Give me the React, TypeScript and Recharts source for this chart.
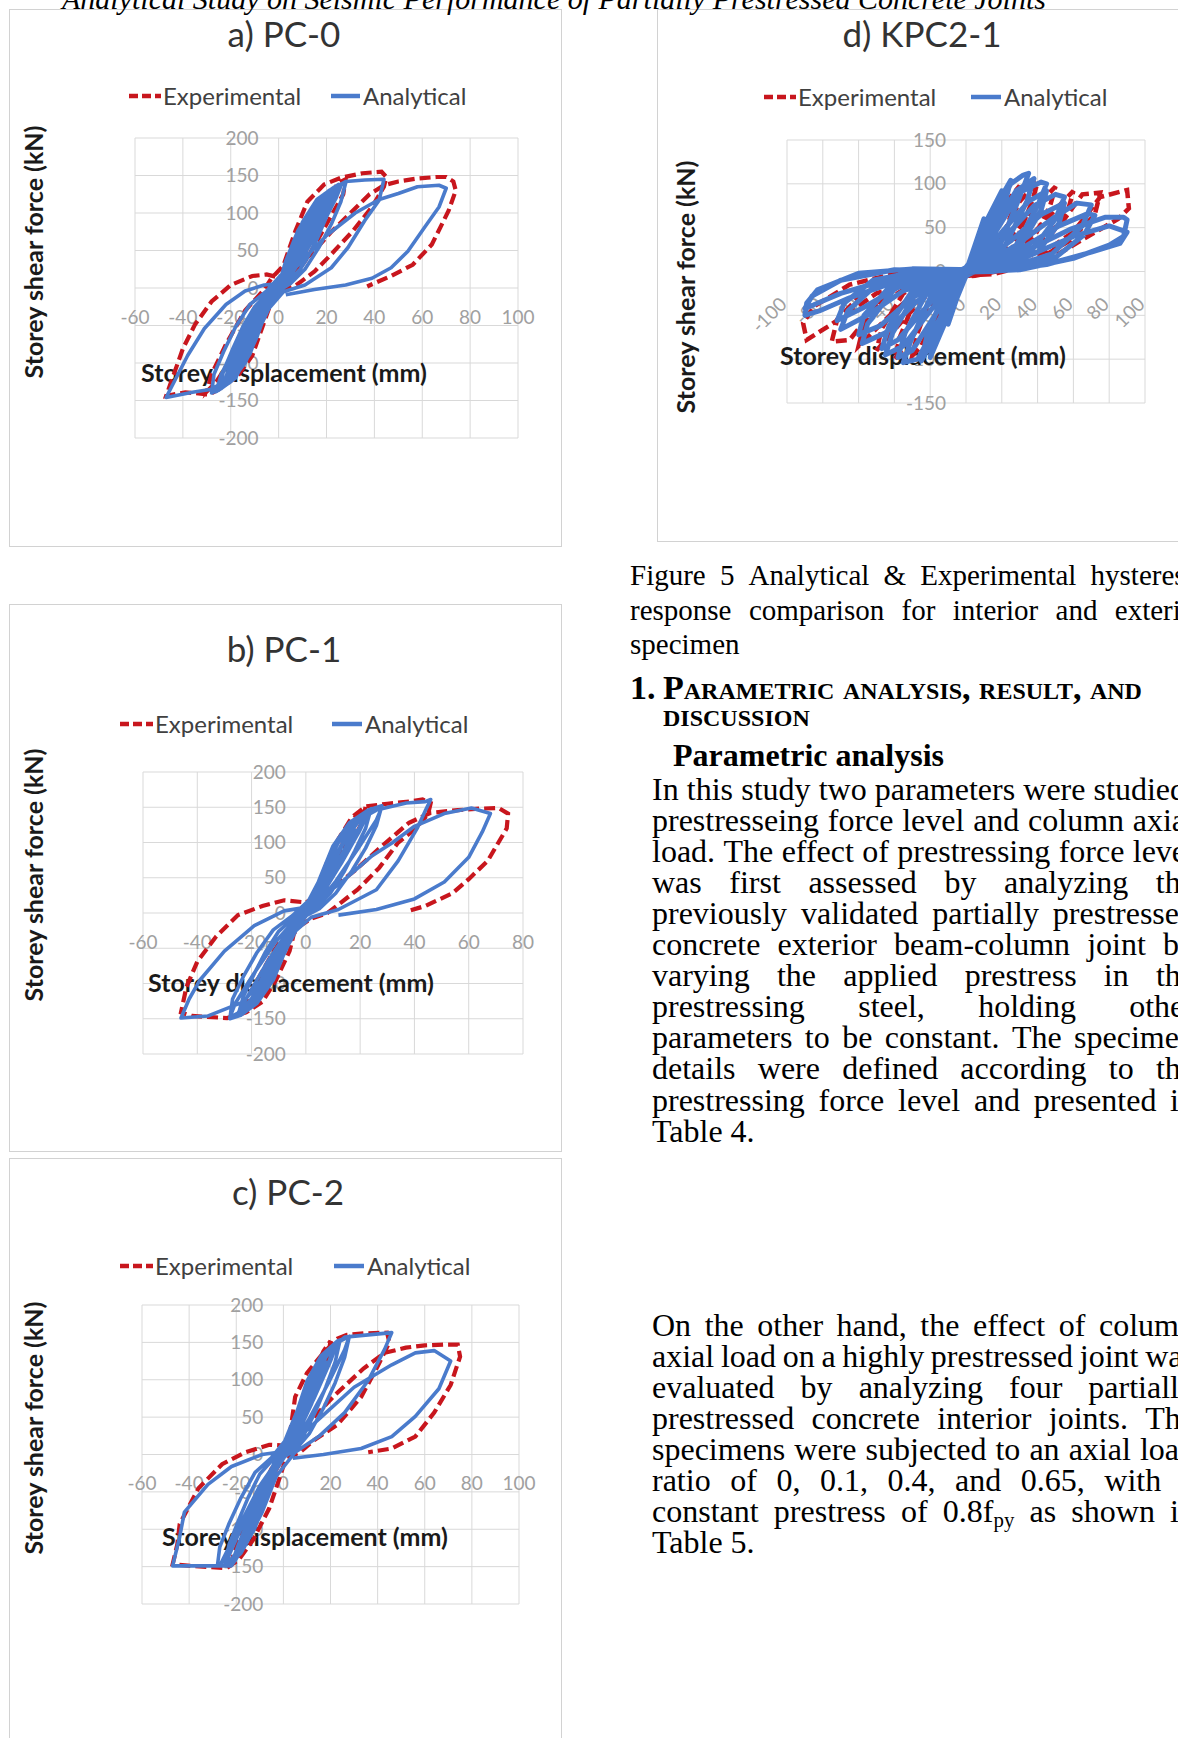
import React from 'react';
import { LineChart, Line, XAxis, YAxis, CartesianGrid } from 'recharts';

type Pair = [number, number];

const RED = '#c8161d';
const BLUE = '#4a7bcc';
const GRID = '#d9d9d9';
const TICK = '#a0a0a0';
const CHART_FONT = 'Lato, "Open Sans", sans-serif';
const PAPER_FONT = '"Liberation Serif", "Times New Roman", serif';

// axis ticks
const pc0XTicks = [-60, -40, -20, 0, 20, 40, 60, 80, 100];
const pc0YTicks = [-200, -150, -100, -50, 0, 50, 100, 150, 200];
const pc1XTicks = [-60, -40, -20, 0, 20, 40, 60, 80];
const pc1YTicks = [-200, -150, -100, -50, 0, 50, 100, 150, 200];
const pc2XTicks = [-60, -40, -20, 0, 20, 40, 60, 80, 100];
const pc2YTicks = [-200, -150, -100, -50, 0, 50, 100, 150, 200];
const kpcXTicks = [-100, -80, -60, -40, -20, 0, 20, 40, 60, 80, 100];
const kpcYTicks = [-150, -100, -50, 0, 50, 100, 150];

// a) PC-0 (displacement mm, shear kN)
const pc0Experimental: Pair[] = [
  [0, 0], [3, 20], [7, 45], [10, 60], [7, 40], [2, 8], [-3, -18], [-7, -45], [-10, -62], [-7, -40], [-2, -8],
  [4, 20], [10, 60], [15, 95], [12, 75], [5, 25], [-1, 0], [-6, -30], [-12, -75], [-16, -100], [-13, -80], [-6, -35], [0, -2],
  [5, 25], [12, 80], [20, 125], [17, 100], [9, 45], [2, 8], [-5, -25], [-13, -80], [-20, -118], [-17, -95], [-9, -45], [-2, -5],
  [5, 20], [12, 70], [19, 115], [25, 140], [28, 145], [27, 125], [20, 85], [12, 40], [5, 10], [-3, -5], [-12, -45], [-20, -95], [-26, -125], [-30, -138], [-28, -115], [-22, -75], [-14, -30], [-6, -2],
  [-3, 13], [2, 30], [7, 76], [12, 115], [19, 138], [26, 147], [35, 153], [43, 155], [45, 148], [44, 135], [39, 108], [31, 76], [22, 45], [15, 22], [7, 3], [1, -3],
  [-4, -27], [-7, -54], [-11, -90], [-17, -117], [-25, -135], [-29, -142], [-39, -139], [-47, -144], [-45, -126], [-40, -81], [-35, -49], [-28, -18], [-20, 4], [-11, 16], [-5, 18], [0, 14],
  [7, 25], [15, 50], [22, 75], [30, 100], [38, 125], [44, 137], [50, 142], [58, 146], [66, 148], [70, 148], [73, 142], [74, 130], [71, 103], [64, 58], [56, 31], [47, 16], [39, 5], [37, 2],
];
const pc0Analytical: Pair[] = [
  [0, 0], [3, 18], [6, 40], [9, 60], [7, 45], [3, 15], [0, 0], [-3, -18], [-6, -40], [-9, -60], [-7, -45], [-3, -15], [0, 0],
  [4, 25], [8, 55], [12, 80], [14, 92], [11, 72], [6, 35], [1, 5], [-4, -22], [-8, -52], [-12, -80], [-14, -92], [-11, -70], [-6, -32], [-1, -3],
  [5, 30], [10, 70], [15, 100], [18, 112], [15, 92], [9, 50], [3, 12], [-4, -22], [-10, -65], [-15, -100], [-18, -112], [-15, -90], [-9, -48], [-3, -10],
  [4, 22], [9, 60], [14, 95], [18, 115], [20, 122], [17, 100], [11, 60], [5, 22], [0, 2], [-5, -25], [-10, -62], [-15, -98], [-19, -118], [-21, -125], [-18, -100], [-12, -62], [-6, -25], [-1, -2],
  [5, 28], [11, 75], [17, 110], [22, 126], [19, 105], [12, 58], [4, 14], [-4, -24], [-11, -75], [-17, -112], [-22, -128], [-19, -105], [-12, -58], [-4, -12],
  [2, 10], [6, 50], [11, 90], [17, 120], [24, 136], [22, 110], [18, 80], [14, 52], [9, 25], [3, 5], [-3, -12], [-8, -50], [-13, -90], [-19, -120], [-25, -136], [-23, -110], [-19, -80], [-15, -52], [-10, -25], [-4, -5],
  [5, 25], [10, 62], [16, 102], [22, 128], [26, 136], [24, 120], [17, 80], [10, 40], [3, 8], [-4, -18], [-10, -55], [-16, -95], [-22, -125], [-26, -135], [-24, -118], [-18, -82], [-11, -42], [-4, -10],
  [1, 6], [5, 45], [10, 88], [16, 118], [23, 134], [28, 140], [26, 115], [22, 85], [17, 55], [11, 25], [5, 6], [-2, -8], [-7, -45], [-12, -88], [-18, -118], [-24, -134], [-28, -140], [-27, -115], [-23, -85], [-18, -52], [-12, -22], [-5, -4],
  [6, 35], [12, 85], [18, 118], [24, 132], [21, 112], [13, 62], [5, 16], [-5, -28], [-12, -82], [-18, -120], [-24, -134], [-21, -110], [-13, -60], [-5, -14],
  [3, 20], [8, 65], [13, 100], [19, 125], [25, 138], [24, 120], [20, 95], [16, 65], [12, 40], [7, 15], [1, 0], [-4, -20], [-9, -65], [-14, -100], [-20, -125], [-26, -138], [-24, -115], [-20, -90], [-16, -62], [-11, -35], [-6, -12],
  [0, 4], [3, 36], [8, 76], [14, 108], [21, 130], [28, 142], [36, 144], [44, 145], [42, 117], [36, 90], [29, 54], [22, 27], [11, 4], [2, -5],
  [-4, -27], [-8, -54], [-14, -90], [-19, -117], [-28, -135], [-36, -139], [-47, -146], [-43, -121], [-38, -90], [-31, -54], [-22, -22], [-14, -4], [-6, 4], [0, 6],
  [8, 30], [20, 70], [32, 100], [42, 118], [50, 126], [58, 135], [67, 137], [70, 133], [67, 108], [61, 81], [54, 49], [47, 27], [39, 13], [28, 4], [15, -2], [3, -9],
];

// b) PC-1
const pc1Experimental: Pair[] = [
  [0, 0], [3, 20], [7, 48], [10, 65], [7, 42], [2, 8], [-3, -20], [-7, -48], [-10, -65], [-7, -42], [-2, -8],
  [4, 22], [10, 68], [15, 100], [12, 78], [5, 25], [-1, 0], [-6, -32], [-12, -78], [-16, -105], [-13, -82], [-6, -35], [0, -2],
  [5, 28], [12, 85], [18, 135], [22, 151], [21, 130], [14, 80], [7, 35], [1, 5], [-5, -28], [-13, -85], [-20, -125], [-23, -138], [-20, -110], [-12, -55], [-4, -10],
  [3, 20], [8, 74], [12, 105], [17, 136], [22, 151], [30, 155], [38, 158], [43, 161], [46, 156], [45, 140], [40, 118], [34, 100], [27, 64], [19, 33], [8, 0], [2, -8],
  [-4, -23], [-6, -54], [-11, -95], [-16, -126], [-22, -141], [-29, -149], [-42, -146], [-46, -141], [-44, -105], [-40, -69], [-33, -33], [-25, -3], [-16, 10], [-8, 18], [0, 15],
  [8, 30], [18, 60], [28, 95], [38, 128], [46, 142], [56, 146], [64, 148], [71, 149], [74.5, 141], [74, 120], [67, 74], [60, 48], [54, 28], [44, 10], [37, 2],
];
const pc1Analytical: Pair[] = [
  [0, 0], [3, 20], [6, 42], [9, 62], [7, 45], [3, 15], [0, 0], [-3, -20], [-6, -42], [-9, -62], [-7, -45], [-3, -15], [0, 0],
  [4, 28], [8, 60], [12, 88], [14, 100], [11, 78], [6, 38], [1, 6], [-4, -25], [-8, -58], [-12, -88], [-15, -105], [-12, -80], [-6, -38], [-1, -4],
  [5, 32], [10, 74], [15, 106], [18, 118], [15, 96], [9, 52], [3, 12], [-4, -24], [-10, -68], [-15, -104], [-18, -118], [-15, -94], [-9, -50], [-3, -10],
  [5, 30], [10, 70], [15, 108], [20, 132], [23, 142], [20, 118], [13, 70], [6, 28], [0, 2], [-5, -28], [-11, -72], [-17, -112], [-22, -135], [-25, -142], [-21, -115], [-14, -68], [-7, -28], [-1, -3],
  [2, 10], [6, 55], [11, 98], [17, 130], [24, 148], [22, 120], [18, 88], [14, 58], [9, 28], [3, 5], [-3, -12], [-8, -55], [-13, -98], [-19, -130], [-25, -145], [-23, -118], [-19, -86], [-15, -56], [-10, -26], [-4, -5],
  [6, 36], [12, 88], [18, 124], [22, 138], [19, 116], [12, 64], [4, 14], [-5, -28], [-12, -84], [-18, -124], [-22, -138], [-19, -114], [-12, -62], [-4, -12],
  [1, 6], [5, 48], [10, 95], [16, 128], [23, 146], [28, 152], [26, 124], [22, 92], [17, 60], [11, 28], [5, 6], [-2, -8], [-7, -48], [-12, -95], [-18, -128], [-24, -145], [-28, -150], [-27, -122], [-23, -90], [-18, -56], [-12, -24], [-5, -4],
  [5, 32], [11, 82], [17, 122], [24, 146], [28, 150], [26, 132], [19, 90], [11, 45], [4, 12], [-4, -18], [-11, -68], [-18, -112], [-24, -140], [-28, -148], [-26, -128], [-19, -85], [-11, -40], [-4, -10],
  [0, 10], [6, 54], [12, 100], [19, 131], [26, 146], [37, 156], [44, 158], [46, 161], [44, 145], [41, 120], [34, 74], [26, 33], [12, 5], [2, -6],
  [-6, -33], [-13, -80], [-23, -126], [-36, -146], [-46, -149], [-43, -122], [-39, -95], [-30, -54], [-19, -18], [-8, 3], [0, 8],
  [12, 40], [24, 80], [32, 100], [40, 123], [51, 141], [61, 149], [68, 141], [65, 115], [60, 79], [51, 44], [40, 20], [26, 5], [12, -3],
];

// c) PC-2
const pc2Experimental: Pair[] = [
  [0, 0], [3, 20], [7, 48], [10, 65], [7, 42], [2, 8], [-3, -20], [-7, -48], [-10, -65], [-7, -42], [-2, -8],
  [4, 25], [10, 70], [15, 105], [12, 80], [5, 25], [-1, 0], [-6, -35], [-12, -80], [-16, -108], [-13, -85], [-6, -38], [0, -2],
  [5, 30], [11, 95], [17, 138], [20, 152], [19, 130], [12, 80], [6, 35], [1, 5], [-5, -32], [-12, -88], [-19, -130], [-22, -142], [-19, -115], [-11, -60], [-4, -12],
  [2, 10], [5, 77], [10, 109], [17, 136], [23, 155], [27, 160], [34, 162], [44, 163], [45, 150], [40, 118], [33, 77], [23, 40], [13, 19], [7, 3], [1, -6],
  [-2, -35], [-6, -72], [-13, -115], [-19, -141], [-24, -152], [-39, -149], [-47, -147], [-45, -120], [-44, -93], [-36, -45], [-26, -13], [-16, 3], [-6, 13], [0, 12],
  [10, 40], [22, 80], [34, 115], [43, 136], [52, 143], [60, 146], [68, 147], [74, 147], [75, 131], [71, 93], [64, 56], [56, 24], [46, 8], [36, 3],
];
const pc2Analytical: Pair[] = [
  [0, 0], [3, 20], [6, 42], [9, 62], [7, 45], [3, 15], [0, 0], [-3, -20], [-6, -42], [-9, -62], [-7, -45], [-3, -15], [0, 0],
  [4, 28], [8, 62], [12, 92], [14, 105], [11, 80], [6, 40], [1, 6], [-4, -26], [-8, -60], [-12, -92], [-15, -108], [-12, -82], [-6, -40], [-1, -4],
  [5, 34], [10, 78], [15, 112], [18, 124], [15, 100], [9, 54], [3, 12], [-4, -26], [-10, -72], [-15, -110], [-18, -124], [-15, -98], [-9, -52], [-3, -10],
  [5, 32], [10, 75], [15, 115], [20, 140], [23, 150], [20, 125], [13, 75], [6, 30], [0, 2], [-5, -30], [-11, -78], [-17, -118], [-22, -140], [-25, -149], [-21, -120], [-14, -72], [-7, -30], [-1, -3],
  [2, 10], [6, 58], [11, 102], [17, 135], [24, 152], [22, 124], [18, 90], [14, 60], [9, 28], [3, 5], [-3, -12], [-8, -58], [-13, -102], [-19, -135], [-25, -149], [-23, -120], [-19, -88], [-15, -58], [-10, -26], [-4, -5],
  [6, 38], [12, 92], [18, 130], [22, 146], [19, 122], [12, 68], [4, 14], [-5, -30], [-12, -90], [-18, -130], [-22, -146], [-19, -120], [-12, -66], [-4, -12],
  [1, 6], [5, 50], [10, 98], [16, 132], [23, 152], [28, 158], [26, 130], [22, 96], [17, 62], [11, 28], [5, 6], [-2, -8], [-7, -50], [-12, -98], [-18, -132], [-24, -149], [-28, -149], [-27, -124], [-23, -92], [-18, -58], [-12, -24], [-5, -4],
  [5, 35], [11, 90], [17, 130], [23, 150], [28, 158], [26, 140], [19, 95], [11, 48], [4, 12], [-4, -20], [-10, -70], [-16, -115], [-22, -145], [-27, -149], [-24, -130], [-17, -85], [-10, -42], [-3, -10],
  [2, 29], [7, 67], [13, 109], [20, 141], [26, 157], [36, 160], [46, 163], [43, 141], [36, 99], [26, 56], [15, 24], [5, 3],
  [-3, -29], [-9, -77], [-16, -120], [-22, -149], [-29, -149], [-47, -149], [-44, -110], [-42, -77], [-32, -40], [-22, -16], [-9, 0], [0, 4],
  [16, 50], [30, 90], [46, 120], [56, 136], [64, 139], [71, 125], [66, 88], [56, 51], [46, 24], [33, 8], [17, 0], [4, -5],
];

// d) KPC2-1
const kpcExperimental: Pair[] = [
  [0, 0], [5, 25], [10, 50], [7, 30], [3, 5], [0, -2], [-5, -25], [-10, -50], [-7, -30], [-3, -5], [0, 0],
  [5, 10], [12, 50], [20, 85], [17, 60], [10, 15], [3, 0], [-5, -10], [-12, -50], [-20, -82], [-17, -55], [-10, -12], [-3, 0],
  [5, 5], [15, 40], [25, 85], [30, 98], [27, 75], [18, 25], [8, 3], [-5, -5], [-15, -40], [-25, -85], [-30, -96], [-27, -70], [-18, -20], [-8, -2],
  [5, 2], [18, 30], [30, 80], [40, 102], [37, 80], [27, 30], [15, 5], [0, -3], [-15, -20], [-30, -75], [-40, -100], [-37, -75], [-27, -25], [-12, -2],
  [5, 0], [20, 20], [35, 65], [50, 97], [47, 75], [37, 35], [22, 8], [5, -3], [-15, -12], [-35, -55], [-50, -90], [-47, -65], [-35, -25], [-18, -3],
  [5, 0], [25, 15], [45, 60], [60, 92], [57, 70], [45, 35], [28, 8], [5, -4], [-20, -10], [-40, -45], [-60, -85], [-57, -60], [-45, -25], [-25, -4],
  [5, 1], [30, 12], [55, 60], [65, 88], [75, 90], [72, 65], [58, 35], [35, 8], [5, -5], [-25, -8], [-50, -40], [-65, -78], [-75, -80], [-72, -55], [-58, -25], [-30, -3],
  [5, 2], [35, 10], [60, 45], [75, 85], [90, 93], [91, 72], [85, 60], [68, 40], [45, 12], [15, -3], [-20, -6], [-50, -25], [-75, -60], [-89, -78], [-91, -59], [-85, -40], [-65, -15], [-35, 0], [0, 0],
];
const kpcAnalytical: Pair[] = [
  [0, 0], [5, 30], [10, 60], [7, 40], [2, 5], [-5, -30], [-10, -60], [-7, -40], [-2, -5],
  [5, 20], [12, 60], [20, 92], [17, 70], [10, 25], [3, 3], [-5, -20], [-12, -60], [-20, -98], [-17, -70], [-10, -25], [-3, -3],
  [5, 18], [14, 65], [25, 104], [22, 80], [12, 28], [3, 2], [-5, -16], [-15, -65], [-25, -102], [-22, -75], [-12, -22], [-3, -2],
  [5, 15], [15, 60], [25, 100], [32, 110], [35, 112], [30, 85], [20, 35], [8, 5], [-5, -12], [-15, -55], [-27, -100], [-35, -104], [-31, -80], [-20, -30], [-8, -4],
  [5, 10], [17, 55], [28, 92], [38, 106], [34, 80], [22, 30], [9, 4], [-5, -10], [-18, -52], [-30, -90], [-38, -98], [-34, -70], [-22, -25], [-9, -3],
  [5, 8], [18, 50], [30, 90], [42, 102], [45, 100], [40, 75], [28, 30], [12, 5], [-5, -8], [-20, -45], [-35, -85], [-45, -95], [-41, -70], [-28, -25], [-12, -3],
  [5, 6], [20, 45], [35, 80], [45, 92], [42, 70], [30, 28], [14, 4], [-6, -6], [-22, -40], [-38, -78], [-47, -88], [-43, -62], [-30, -22], [-14, -2],
  [5, 5], [22, 40], [38, 75], [50, 88], [55, 85], [50, 60], [36, 22], [15, 3], [-8, -5], [-28, -35], [-45, -70], [-58, -82], [-55, -60], [-40, -20], [-18, -2],
  [5, 4], [25, 35], [42, 65], [55, 78], [52, 55], [40, 22], [18, 3], [-8, -4], [-30, -30], [-48, -62], [-60, -72], [-57, -50], [-42, -16], [-20, -1],
  [5, 3], [28, 30], [48, 60], [62, 78], [70, 76], [65, 52], [48, 20], [22, 3], [-10, -3], [-35, -22], [-55, -50], [-70, -66], [-66, -45], [-50, -15], [-22, 0],
  [5, 3], [30, 25], [52, 52], [68, 66], [72, 64], [66, 42], [50, 16], [25, 2], [-10, -2], [-38, -18], [-58, -42], [-72, -56], [-68, -36], [-52, -10], [-25, 1],
  [5, 2], [32, 22], [58, 48], [78, 62], [88, 62], [90, 59], [88, 40], [80, 30], [60, 15], [30, 2], [-10, -2], [-40, -12], [-65, -30], [-82, -45], [-90, -50], [-89, -36], [-83, -21], [-60, -2], [-30, 3],
  [5, 2], [35, 18], [60, 40], [80, 52], [90, 45], [86, 32], [70, 22], [45, 8], [15, 0], [-15, -1], [-45, -10], [-70, -25], [-85, -38], [-90, -42], [-86, -28], [-70, -10], [-40, 2], [0, 0],
];

const toPoints = (pairs: Pair[]) => pairs.map(([x, y]) => ({ x, y }));

type PanelSpec = {
  box: { left: number; top: number; width: number; height: number };
  title: string;
  titleCx: number;
  titleCy: number;
  legendCy: number;
  legendX: [number, number, number, number];
  plot: { left: number; top: number; right: number; bottom: number };
  xDomain: [number, number];
  yDomain: [number, number];
  xTicks: number[];
  yTicks: number[];
  experimental: Pair[];
  analytical: Pair[];
  xTitleCx: number;
  xTitleCy: number;
  yTitleCx: number;
  yTitleCy: number;
  rotatedX?: boolean;
  redWidth: number;
  blueWidth: number;
};

const panels: PanelSpec[] = [
  {
    box: { left: 9, top: 9, width: 553, height: 538 },
    title: 'a) PC-0', titleCx: 284, titleCy: 33,
    legendCy: 96, legendX: [129, 163, 331, 363],
    plot: { left: 135, top: 138, right: 518, bottom: 438 },
    xDomain: [-60, 100], yDomain: [-200, 200], xTicks: pc0XTicks, yTicks: pc0YTicks,
    experimental: pc0Experimental, analytical: pc0Analytical,
    xTitleCx: 284, xTitleCy: 372, yTitleCx: 33, yTitleCy: 252,
    redWidth: 4.2, blueWidth: 3.6,
  },
  {
    box: { left: 9, top: 604, width: 553, height: 548 },
    title: 'b) PC-1', titleCx: 284, titleCy: 648,
    legendCy: 724, legendX: [120, 155, 332, 365],
    plot: { left: 143, top: 772, right: 523, bottom: 1054 },
    xDomain: [-60, 80], yDomain: [-200, 200], xTicks: pc1XTicks, yTicks: pc1YTicks,
    experimental: pc1Experimental, analytical: pc1Analytical,
    xTitleCx: 291, xTitleCy: 982, yTitleCx: 33, yTitleCy: 875,
    redWidth: 4.2, blueWidth: 3.6,
  },
  {
    box: { left: 9, top: 1158, width: 553, height: 600 },
    title: 'c) PC-2', titleCx: 288, titleCy: 1191,
    legendCy: 1266, legendX: [120, 155, 334, 367],
    plot: { left: 142, top: 1305, right: 519, bottom: 1604 },
    xDomain: [-60, 100], yDomain: [-200, 200], xTicks: pc2XTicks, yTicks: pc2YTicks,
    experimental: pc2Experimental, analytical: pc2Analytical,
    xTitleCx: 305, xTitleCy: 1536, yTitleCx: 33, yTitleCy: 1428,
    redWidth: 4.2, blueWidth: 3.6,
  },
  {
    box: { left: 657, top: 9, width: 553, height: 533 },
    title: 'd) KPC2-1', titleCx: 922, titleCy: 33,
    legendCy: 97, legendX: [764, 798, 971, 1004],
    plot: { left: 787, top: 140, right: 1145, bottom: 403 },
    xDomain: [-100, 100], yDomain: [-150, 150], xTicks: kpcXTicks, yTicks: kpcYTicks,
    experimental: kpcExperimental, analytical: kpcAnalytical,
    xTitleCx: 923, xTitleCy: 355, yTitleCx: 685, yTitleCy: 287,
    rotatedX: true, redWidth: 4.5, blueWidth: 5,
  },
];

function SeriesLegend({ cy, xs }: { cy: number; xs: [number, number, number, number] }) {
  const [rx, etx, bx, atx] = xs;
  const text: React.CSSProperties = {
    position: 'absolute', top: cy - 15, height: 30, lineHeight: '30px',
    fontSize: 24, fontFamily: CHART_FONT, color: '#404040', whiteSpace: 'nowrap',
  };
  return (
    <>
      <svg style={{ position: 'absolute', left: rx, top: cy - 4 }} width={etx - rx - 2} height={8}>
        <line x1={0} y1={4} x2={etx - rx - 2} y2={4} stroke={RED} strokeWidth={4.5} strokeDasharray="9 4" />
      </svg>
      <div style={{ ...text, left: etx }}>Experimental</div>
      <svg style={{ position: 'absolute', left: bx, top: cy - 4 }} width={atx - bx - 3} height={8}>
        <line x1={0} y1={4} x2={atx - bx - 3} y2={4} stroke={BLUE} strokeWidth={4.5} />
      </svg>
      <div style={{ ...text, left: atx }}>Analytical</div>
    </>
  );
}

function Panel({ s }: { s: PanelSpec }) {
  const { box, plot } = s;
  // 1px is taken by each (invisible) axis, the rest is margin
  const margin = {
    top: plot.top - box.top,
    left: plot.left - box.left - 1,
    right: box.left + box.width - plot.right,
    bottom: box.top + box.height - plot.bottom - 1,
  };
  const plotLeft = plot.left - box.left;
  const plotW = plot.right - plot.left;
  const plotH = plot.bottom - plot.top;
  // Excel puts both axes through the origin, so labels sit next to x=0 / y=0
  const zeroX = plotLeft + (plotW * (0 - s.xDomain[0])) / (s.xDomain[1] - s.xDomain[0]);
  const zeroY = margin.top + (plotH * s.yDomain[1]) / (s.yDomain[1] - s.yDomain[0]);

  const renderXTick = (p: any) => {
    const v = p.payload.value;
    if (s.rotatedX) {
      const ax = p.x + 1;
      const ay = zeroY + 34;
      return (
        <text x={ax} y={ay} textAnchor="end" transform={`rotate(-45 ${ax} ${ay})`} fill={TICK} fontSize={19} fontFamily={CHART_FONT}>
          {v}
        </text>
      );
    }
    return (
      <text x={p.x} y={zeroY + 29} dy="0.35em" textAnchor="middle" fill={TICK} fontSize={19} fontFamily={CHART_FONT}>
        {v}
      </text>
    );
  };
  const renderYTick = (p: any) => (
    <text x={zeroX - 20} y={p.y} dy="0.35em" textAnchor="end" fill={TICK} fontSize={19} fontFamily={CHART_FONT}>
      {p.payload.value}
    </text>
  );

  const axisTitle: React.CSSProperties = {
    position: 'absolute', width: 420, height: 30, lineHeight: '30px', textAlign: 'center',
    fontSize: 25, fontWeight: 700, fontFamily: CHART_FONT, color: '#1a1a1a', whiteSpace: 'nowrap',
  };
  const layer: React.CSSProperties = { position: 'absolute', left: box.left, top: box.top };

  return (
    <>
      <div
        style={{
          position: 'absolute', left: box.left, top: box.top, width: box.width, height: box.height,
          border: '1px solid #d2d2d2', boxSizing: 'border-box', background: '#fff',
        }}
      />
      <div
        style={{
          position: 'absolute', left: s.titleCx - 200, top: s.titleCy - 20, width: 400, height: 40,
          lineHeight: '40px', textAlign: 'center', fontSize: 35, fontFamily: CHART_FONT, color: '#333',
        }}
      >
        {s.title}
      </div>
      <SeriesLegend cy={s.legendCy} xs={s.legendX} />
      {/* grid and tick labels sit underneath the axis titles and the loops */}
      <div style={layer}>
        <LineChart width={box.width} height={box.height} margin={margin}>
          <CartesianGrid stroke={GRID} strokeWidth={1} />
          <XAxis
            type="number" dataKey="x" domain={s.xDomain} ticks={s.xTicks} interval={0} height={1}
            axisLine={false} tickLine={false} tick={renderXTick} allowDataOverflow
          />
          <YAxis
            type="number" dataKey="y" domain={s.yDomain} ticks={s.yTicks} interval={0} width={1}
            axisLine={false} tickLine={false} tick={renderYTick} allowDataOverflow
          />
          <Line data={toPoints(s.experimental)} dataKey="y" stroke="none" dot={false} activeDot={false} isAnimationActive={false} />
        </LineChart>
      </div>
      <div style={{ ...axisTitle, left: s.xTitleCx - 210, top: s.xTitleCy - 15 }}>Storey displacement (mm)</div>
      <div style={{ ...axisTitle, left: s.yTitleCx - 210, top: s.yTitleCy - 15, transform: 'rotate(-90deg)' }}>
        Storey shear force (kN)
      </div>
      <div style={layer}>
        <LineChart width={box.width} height={box.height} margin={margin}>
          <XAxis type="number" dataKey="x" domain={s.xDomain} ticks={s.xTicks} height={1} axisLine={false} tickLine={false} tick={false} allowDataOverflow />
          <YAxis type="number" dataKey="y" domain={s.yDomain} ticks={s.yTicks} width={1} axisLine={false} tickLine={false} tick={false} allowDataOverflow />
          <Line
            data={toPoints(s.experimental)} dataKey="y" type="linear" stroke={RED} strokeWidth={s.redWidth}
            strokeDasharray="11 5" dot={false} activeDot={false} isAnimationActive={false}
          />
          <Line
            data={toPoints(s.analytical)} dataKey="y" type="linear" stroke={BLUE} strokeWidth={s.blueWidth}
            strokeLinejoin="round" dot={false} activeDot={false} isAnimationActive={false}
          />
        </LineChart>
      </div>
    </>
  );
}

// page text on the right column
const captionLines = [
  'Figure 5 Analytical & Experimental hysteresis',
  'response comparison for interior and exterior',
  'specimen',
];
const paraOne = [
  'In this study two parameters were studied:',
  'prestresseing force level and column axial',
  'load. The effect of prestressing force level',
  'was first assessed by analyzing the',
  'previously validated partially prestressed',
  'concrete exterior beam-column joint by',
  'varying the applied prestress in the',
  'prestressing steel, holding other',
  'parameters to be constant. The specimen',
  'details were defined according to the',
  'prestressing force level and presented in',
  'Table 4.',
];
const paraTwo = [
  'On the other hand, the effect of column',
  'axial load on a highly prestressed joint was',
  'evaluated by analyzing four partially',
  'prestressed concrete interior joints. The',
  'specimens were subjected to an axial load',
  'ratio of 0, 0.1, 0.4, and 0.65, with a',
  'constant prestress of 0.8fpy as shown in',
  'Table 5.',
];

function Word({ w }: { w: string }) {
  if (w === '0.8fpy') {
    return (
      <span>
        0.8f<sub style={{ fontSize: '0.65em', verticalAlign: '-0.25em' }}>py</sub>
      </span>
    );
  }
  return <span>{w}</span>;
}

function TextLine({
  text, left, cy, width, size, lh, justify,
}: { text: string; left: number; cy: number; width: number; size: number; lh: number; justify: boolean }) {
  const words = text.split(' ');
  return (
    <div
      style={{
        position: 'absolute', left, top: cy - lh / 2, width, height: lh, lineHeight: `${lh}px`,
        fontSize: size, fontFamily: PAPER_FONT, color: '#000', whiteSpace: 'nowrap', display: 'flex',
        justifyContent: justify ? 'space-between' : 'flex-start', columnGap: justify ? '0.2em' : '0.25em',
      }}
    >
      {words.map((w, i) => (
        <Word key={i} w={w} />
      ))}
    </div>
  );
}

function PageText() {
  const bodyLeft = 652;
  const bodyWidth = 543;
  const step = 31.1;
  return (
    <>
      <div
        style={{
          position: 'absolute', left: 62, top: -16, fontSize: 30, lineHeight: '30px', fontStyle: 'italic',
          fontFamily: PAPER_FONT, color: '#000', whiteSpace: 'nowrap',
        }}
      >
        Analytical Study on Seismic Performance of Partially Prestressed Concrete Joints
      </div>
      {captionLines.map((t, i) => (
        <TextLine key={`c${i}`} text={t} left={630} cy={575 + i * 34.5} width={575} size={29} lh={34} justify={i < 2} />
      ))}
      <div
        style={{
          position: 'absolute', left: 630, top: 688 - 18, height: 36, lineHeight: '36px', fontSize: 34,
          fontWeight: 700, fontFamily: PAPER_FONT, whiteSpace: 'nowrap',
        }}
      >
        1.
      </div>
      {['Parametric analysis, result, and', 'discussion'].map((t, i) => (
        <div
          key={`h${i}`}
          style={{
            position: 'absolute', left: 663, top: 688 + i * 27 - 18, height: 36, lineHeight: '36px', fontSize: 34,
            fontWeight: 700, fontVariant: 'small-caps', fontFamily: PAPER_FONT, whiteSpace: 'nowrap',
          }}
        >
          {t}
        </div>
      ))}
      <div
        style={{
          position: 'absolute', left: 673, top: 755 - 18, height: 36, lineHeight: '36px', fontSize: 32,
          fontWeight: 700, fontFamily: PAPER_FONT, whiteSpace: 'nowrap',
        }}
      >
        Parametric analysis
      </div>
      {paraOne.map((t, i) => (
        <TextLine key={`p${i}`} text={t} left={bodyLeft} cy={789 + i * step} width={bodyWidth} size={32} lh={31} justify={i < paraOne.length - 1} />
      ))}
      {paraTwo.map((t, i) => (
        <TextLine key={`q${i}`} text={t} left={bodyLeft} cy={1325 + i * step} width={bodyWidth} size={32} lh={31} justify={i < paraTwo.length - 1} />
      ))}
    </>
  );
}

export default function App() {
  return (
    <div
      style={{
        position: 'absolute', left: 0, top: 0, width: 1178, height: 1738, overflow: 'hidden', background: '#fff',
      }}
    >
      {panels.map((s) => (
        <Panel key={s.title} s={s} />
      ))}
      <PageText />
    </div>
  );
}
